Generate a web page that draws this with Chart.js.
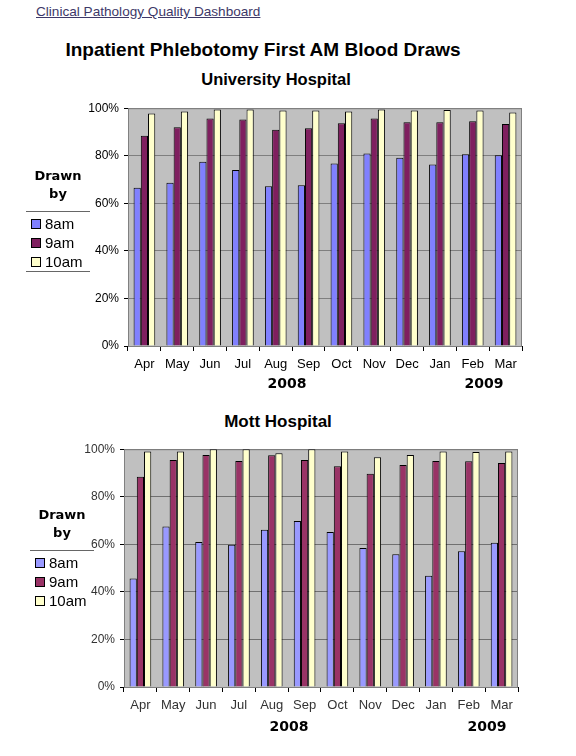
<!DOCTYPE html>
<html>
<head>
<meta charset="utf-8">
<script src="https://cdn.jsdelivr.net/npm/chart.js@4/dist/chart.umd.min.js"></script>
<style>
  body { margin: 0; background: #fff; width: 576px; height: 756px; position: relative; overflow: hidden; font-family: "Liberation Sans", Arial, sans-serif; }
  .txt { position: absolute; white-space: nowrap; line-height: 1; }
  .c { transform: translate(-50%, -50%); }
  .wrap { position: absolute; width: 450px; height: 300px; }
  .legend { position: absolute; width: 64px; }
  .legend .head { font-family: "DejaVu Sans", sans-serif; font-weight: bold; font-size: 13px; text-align: center; line-height: 18px; }
  .legend .item { font-size: 15px; height: 19px; line-height: 19px; }
  .legend .box { display: inline-block; width: 8px; height: 8px; border: 1px solid #000; margin: 0 4px 0 5px; vertical-align: 0; }
</style>
</head>
<body>
<div class="txt" style="left:36px;top:5px;font-size:13.6px;color:#3d3868;text-decoration:underline;">Clinical Pathology Quality Dashboard</div>
<div class="txt c" style="left:263px;top:49px;font-size:19px;font-weight:bold;">Inpatient Phlebotomy First AM Blood Draws</div>
<div class="txt c" style="left:276px;top:79px;font-size:16.5px;font-weight:bold;">University Hospital</div>
<div class="txt c" style="left:278px;top:421px;font-size:17px;font-weight:bold;">Mott Hospital</div>

<div class="wrap" style="left:78px;top:96px;"><canvas id="uhChart" width="450" height="300"></canvas></div>
<div class="wrap" style="left:74px;top:437px;"><canvas id="mottChart" width="450" height="300"></canvas></div>

<div class="txt c" style="left:287px;top:383px;font-family:'DejaVu Sans',sans-serif;font-size:14px;font-weight:bold;">2008</div>
<div class="txt c" style="left:484px;top:383px;font-family:'DejaVu Sans',sans-serif;font-size:14px;font-weight:bold;">2009</div>
<div class="txt c" style="left:289px;top:726px;font-family:'DejaVu Sans',sans-serif;font-size:14px;font-weight:bold;">2008</div>
<div class="txt c" style="left:487px;top:726px;font-family:'DejaVu Sans',sans-serif;font-size:14px;font-weight:bold;">2009</div>

<div class="legend" id="uhLegend" style="left:26px;top:167px;"></div>
<div class="legend" id="mottLegend" style="left:30px;top:506px;"></div>

<script>
// data
const months = ["Apr", "May", "Jun", "Jul", "Aug", "Sep", "Oct", "Nov", "Dec", "Jan", "Feb", "Mar"];
const seriesNames = ["8am", "9am", "10am"];
const yTicks = [0, 20, 40, 60, 80, 100];

const uh8am = [66.5, 68.6, 77.5, 74, 67.2, 67.6, 76.7, 80.9, 79.2, 76.3, 80.6, 80.2];
const uh9am = [88.4, 92, 95.7, 95.3, 90.9, 91.6, 93.7, 95.7, 94.1, 94.1, 94.5, 93.4];
const uh10am = [97.8, 98.6, 99.5, 99.5, 99, 99, 98.6, 99.5, 99, 99.2, 99, 98.2];

const mott8am = [45.6, 67.5, 61, 59.8, 66.1, 69.8, 65.2, 58.4, 55.8, 46.8, 57.1, 60.7];
const mott9am = [88.4, 95.5, 97.6, 95, 97.5, 95.5, 92.8, 89.7, 93.4, 95, 94.9, 94.2];
const mott10am = [99, 99, 100, 100, 98.3, 100, 99, 96.6, 97.6, 99, 98.8, 99];

const uhColors = ["#8080ff", "#7f1f5f", "#ffffcc"];
const mottColors = ["#9999ff", "#993366", "#ffffcc"];

// !=======plot area background + frame=========
const plotFrame = {
  id: "plotFrame",
  beforeDraw(chart) {
    const { ctx, chartArea: a } = chart;
    ctx.save();
    ctx.fillStyle = "#c0c0c0";
    ctx.fillRect(a.left, a.top, a.right - a.left, a.bottom - a.top);
    ctx.restore();
  },
  beforeDatasetsDraw(chart) {
    const { ctx, chartArea: a } = chart;
    ctx.save();
    ctx.strokeStyle = "#808080";
    ctx.lineWidth = 1;
    ctx.strokeRect(a.left + 0.5, a.top + 0.5, a.right - a.left - 1, a.bottom - a.top);
    ctx.restore();
  },
};

function makeChart(canvasId, values, colors, textColor, gridColor) {
  return new Chart(document.getElementById(canvasId), {
    type: "bar",
    data: {
      labels: months,
      datasets: seriesNames.map((name, i) => ({
        label: name,
        data: values[i],
        backgroundColor: colors[i],
        borderColor: "#000",
        borderWidth: 1,
        borderSkipped: "bottom",
        barPercentage: 1,
        categoryPercentage: 0.66,
      })),
    },
    options: {
      responsive: false,
      animation: false,
      layout: { padding: { top: 8, right: 6, left: 0, bottom: 0 } },
      plugins: { legend: { display: false }, tooltip: { enabled: false } },
      scales: {
        x: {
          afterFit: (axis) => { axis.height = 50; },
          grid: { offset: true, drawOnChartArea: false, drawTicks: true, tickLength: 5, tickColor: "#000" },
          border: { color: "#000" },
          ticks: { color: textColor, padding: 6, font: { family: "Liberation Sans", size: 13 } },
        },
        y: {
          min: 0,
          max: 100,
          afterFit: (axis) => { axis.width = 50; },
          afterBuildTicks: (axis) => { axis.ticks = yTicks.map((v) => ({ value: v })); },
          grid: { color: gridColor, tickLength: 4, tickColor: "#000" },
          border: { color: "#555" },
          ticks: {
            color: textColor,
            padding: 5,
            font: { family: "Liberation Sans", size: 12 },
            callback: (v) => v + "%",
          },
        },
      },
    },
    plugins: [plotFrame],
  });
}

function buildLegend(id, colors, lineColor, bottomLine) {
  const el = document.getElementById(id);
  let html = '<div class="head">Drawn<br>by</div>';
  html += '<div style="border-top:1px solid ' + lineColor + ';margin-top:8px;height:2px"></div>';
  seriesNames.forEach((name, i) => {
    html += '<div class="item"><span class="box" style="background:' + colors[i] + '"></span>' + name + "</div>";
  });
  if (bottomLine) html += '<div style="border-top:1px solid ' + lineColor + ';margin-top:0"></div>';
  el.innerHTML = html;
}

makeChart("uhChart", [uh8am, uh9am, uh10am], uhColors, "#000", "#7f7f7f");
makeChart("mottChart", [mott8am, mott9am, mott10am], mottColors, "#333", "#707070");
buildLegend("uhLegend", uhColors, "#666", true);
buildLegend("mottLegend", mottColors, "#666", false);
</script>
</body>
</html>
